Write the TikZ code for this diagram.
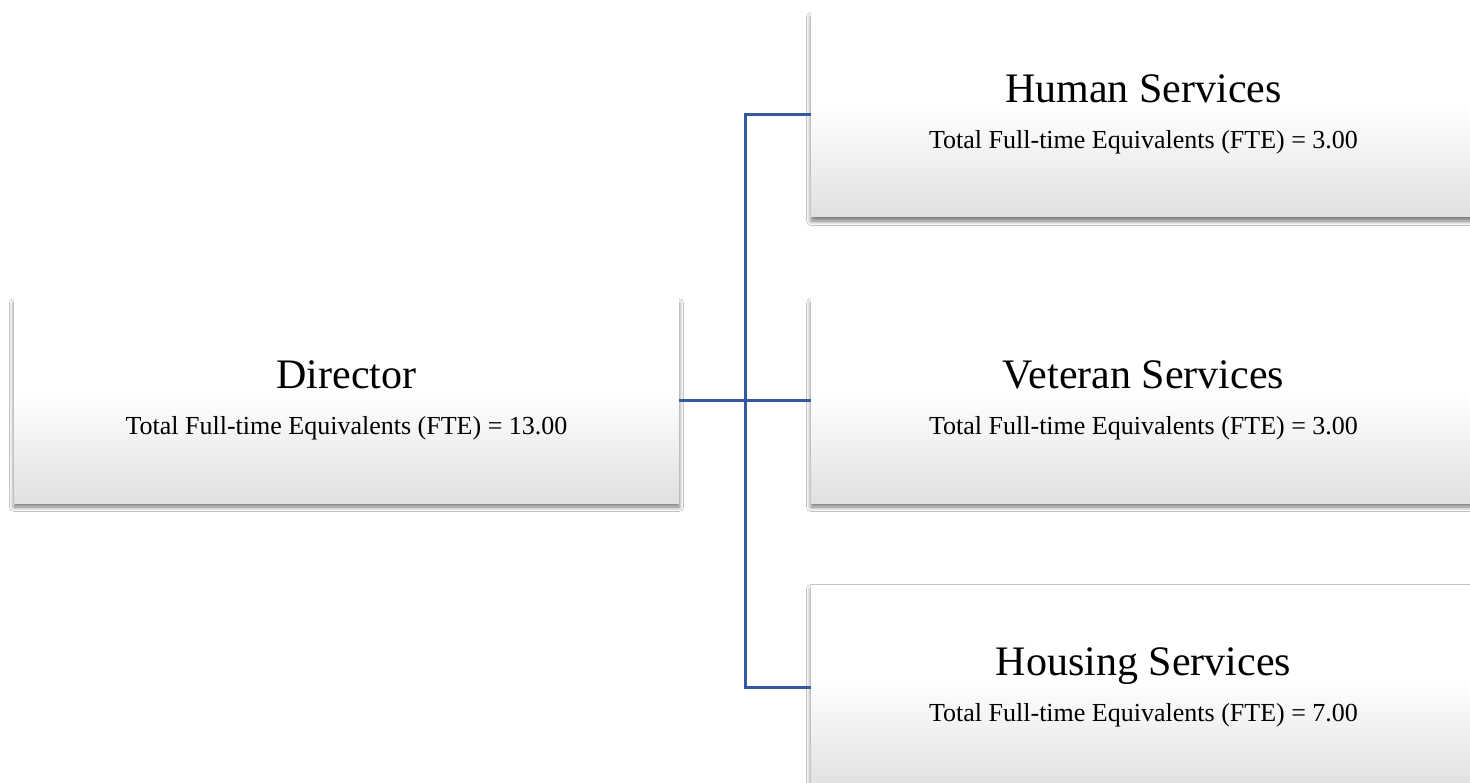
\documentclass[tikz,border=0pt]{standalone}
\usepackage{fontspec}
\setmainfont{Liberation Serif}
\usepackage{xcolor}
\definecolor{linkblue}{HTML}{3359A0}
\definecolor{boxgrey}{HTML}{E0E0E0}
\usepackage{tikz}
\usetikzlibrary{
  positioning,
  calc,
  backgrounds,
  shadows.blur
}
\pgfdeclareverticalshading{unitshade}{100bp}{color(0bp)=(boxgrey); color(25bp)=(boxgrey); color(52bp)=(white); color(100bp)=(white)}

\begin{document}
\begin{tikzpicture}[
  x=1pt, y=-1pt,
  unit/.style={rectangle, minimum width=665pt, minimum height=204pt, inner sep=0pt,
    shading=unitshade,
    blur shadow={shadow xshift=0pt, shadow yshift=-4pt, shadow blur radius=4.5pt, shadow opacity=55}},
  unitname/.style={anchor=base, font=\fontsize{42}{50}\selectfont, inner sep=0pt},
  unitfte/.style={anchor=base, font=\fontsize{26}{31}\selectfont, inner sep=0pt},
  conn/.style={draw=linkblue, line width=3pt},
]
\useasboundingbox (0,0) rectangle (1470,783);
\clip (0,0) rectangle (1470,783);
\fill[white] (0,0) rectangle (1470,783);

% Boxes
\node[unit] (dir) at (346.5, 401) {};
\node[unit] (hum) at (1143.5, 115) {};
\node[unit] (vet) at (1143.5, 401) {};
\node[unit] (hou) at (1143.5, 687) {};

% Texts
\node[unitname] (dirname) at ([yshift=12pt]dir.center) {Director};
\node[unitfte] (dirfte) at ([yshift=-34pt]dir.center) {Total Full-time Equivalents (FTE) = 13.00};
\node[unitname] (humname) at ([yshift=12pt]hum.center) {Human Services};
\node[unitfte] (humfte) at ([yshift=-34pt]hum.center) {Total Full-time Equivalents (FTE) = 3.00};
\node[unitname] (vetname) at ([yshift=12pt]vet.center) {Veteran Services};
\node[unitfte] (vetfte) at ([yshift=-34pt]vet.center) {Total Full-time Equivalents (FTE) = 3.00};
\node[unitname] (houname) at ([yshift=12pt]hou.center) {Housing Services};
\node[unitfte] (houfte) at ([yshift=-34pt]hou.center) {Total Full-time Equivalents (FTE) = 7.00};

% Connectors
\coordinate (bus) at (745, 401);
\draw[conn] (dir.east) -- (vet.west);
\draw[conn] (hum.west) -| (bus |- hou.west) -- (hou.west);

\end{tikzpicture}
\end{document}
